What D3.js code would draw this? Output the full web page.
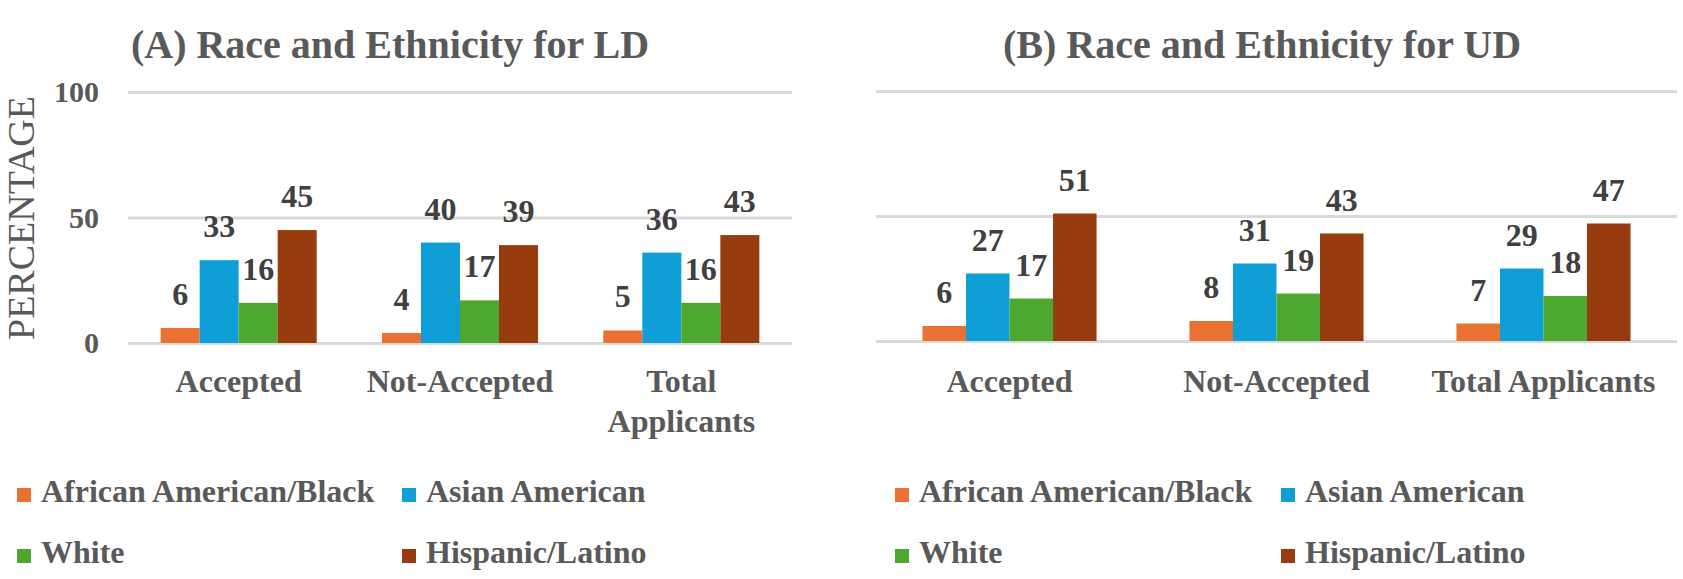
<!DOCTYPE html>
<html>
<head>
<meta charset="utf-8">
<script src="https://cdn.jsdelivr.net/npm/d3@7"></script>
<style>
  body { margin: 0; background: #fff; }
  svg text { font-family: "Liberation Serif", "Tinos", "Times New Roman", "DejaVu Serif", serif !important; }
</style>
</head>
<body>
<script>
// chart data
const categories = ["Accepted", "Not-Accepted", "Total Applicants"];
const groups = ["African American/Black", "Asian American", "White", "Hispanic/Latino"];
const colors = ["#E97132", "#0F9ED5", "#4EA72E", "#963C0E"];
const yTicks = [0, 50, 100];

// (A) LD
const ldBlack = [6, 4, 5];
const ldAsian = [33, 40, 36];
const ldWhite = [16, 17, 16];
const ldHispanic = [45, 39, 43];

// (B) UD
const udBlack = [6, 8, 7];
const udAsian = [27, 31, 29];
const udWhite = [17, 19, 18];
const udHispanic = [51, 43, 47];

let svgWidth = 1683;
let svgHeight = 579;

var svg = d3.select("body")
  .append("svg")
  .attr("width", svgWidth)
  .attr("height", svgHeight)
  .attr("font-family", "'Liberation Serif', 'DejaVu Serif', serif");

var textColor = "#595959";

function drawPanel(cfg) {
  var series = cfg.series;

  var x0 = d3.scaleBand()
    .domain(categories)
    .range([cfg.left, cfg.right])
    .paddingInner(cfg.pad)
    .paddingOuter(cfg.pad / 2);

  var x1 = d3.scaleBand()
    .domain(groups)
    .range([0, x0.bandwidth()]);

  var y = d3.scaleLinear()
    .domain([0, 100])
    .range([cfg.bottom, cfg.top]);

  // grid + ticks
  var yAxis = d3.axisLeft(y)
    .tickValues(yTicks)
    .tickSize(-(cfg.right - cfg.left))
    .tickPadding(29);

  var g = svg.append("g")
    .attr("transform", `translate(${cfg.left},0)`)
    .call(yAxis)
    .attr("font-family", null);
  g.select(".domain").remove();
  g.selectAll(".tick line")
    .attr("stroke", "#d9d9d9")
    .attr("stroke-width", 3);
  g.selectAll(".tick text")
    .attr("fill", textColor)
    .attr("font-size", "30px")
    .attr("font-weight", "bold")
    .attr("opacity", cfg.showTicks ? 1 : 0);

  // rows of values per category
  var rows = categories.map((c, i) => ({
    cat: c,
    vals: groups.map((s, j) => ({ key: s, value: series[j][i], color: colors[j] }))
  }));

  var catG = svg.selectAll(null)
    .data(rows)
    .enter()
    .append("g")
    .attr("transform", d => `translate(${x0(d.cat)},0)`);

  catG.selectAll("rect")
    .data(d => d.vals)
    .enter()
    .append("rect")
    .attr("x", d => x1(d.key))
    .attr("y", d => y(d.value))
    .attr("width", x1.bandwidth())
    .attr("height", d => y(0) - y(d.value))
    .attr("fill", d => d.color);

  catG.selectAll("text")
    .data(d => d.vals)
    .enter()
    .append("text")
    .attr("x", d => x1(d.key) + x1.bandwidth() / 2)
    .attr("y", d => y(d.value) - 23)
    .attr("text-anchor", "middle")
    .attr("font-size", "32px")
    .attr("font-weight", "bold")
    .attr("fill", "#404040")
    .text(d => d.value);

  // category labels, wrapped when wider than the band
  svg.selectAll(null)
    .data(categories)
    .enter()
    .append("text")
    .attr("x", d => x0(d) + x0.bandwidth() / 2)
    .attr("y", cfg.catY)
    .attr("text-anchor", "middle")
    .attr("font-size", "32px")
    .attr("font-weight", "bold")
    .attr("fill", textColor)
    .text(d => d)
    .each(function(d) {
      var t = d3.select(this);
      if (this.getComputedTextLength() > x0.step() - 8) {
        var words = d.split(" ");
        var cx = t.attr("x");
        t.text(null);
        words.forEach((w, k) => {
          t.append("tspan").attr("x", cx).attr("dy", k ? 40 : 0).text(w);
        });
      }
    });

  // title
  svg.append("text")
    .attr("x", cfg.titleX)
    .attr("y", 58)
    .attr("text-anchor", "middle")
    .attr("font-size", "40px")
    .attr("font-weight", "bold")
    .attr("fill", textColor)
    .text(cfg.title);

  // legend, two columns by two rows
  var leg = svg.append("g");
  groups.forEach((s, j) => {
    var lx = cfg.legendX[j % 2];
    var ly = cfg.legendY[Math.floor(j / 2)];
    leg.append("rect")
      .attr("x", lx)
      .attr("y", ly - 14)
      .attr("width", 14)
      .attr("height", 14)
      .attr("fill", colors[j]);
    leg.append("text")
      .attr("x", lx + 24)
      .attr("y", ly)
      .attr("font-size", "32px")
      .attr("font-weight", "bold")
      .attr("fill", textColor)
      .text(s);
  });
}

drawPanel({
  title: "(A) Race and Ethnicity for LD",
  titleX: 390,
  series: [ldBlack, ldAsian, ldWhite, ldHispanic],
  left: 128, right: 792, top: 92, bottom: 343,
  pad: 0.295,
  showTicks: true,
  catY: 392,
  legendX: [17, 402],
  legendY: [502, 563]
});

drawPanel({
  title: "(B) Race and Ethnicity for UD",
  titleX: 1262,
  series: [udBlack, udAsian, udWhite, udHispanic],
  left: 876, right: 1677, top: 91, bottom: 341,
  pad: 0.348,
  showTicks: false,
  catY: 392,
  legendX: [895, 1281],
  legendY: [502, 563]
});

// y axis title
svg.append("text")
  .attr("transform", "translate(34,218) rotate(-90)")
  .attr("text-anchor", "middle")
  .attr("font-size", "38px")
  .attr("fill", textColor)
  .text("PERCENTAGE");
</script>
</body>
</html>
